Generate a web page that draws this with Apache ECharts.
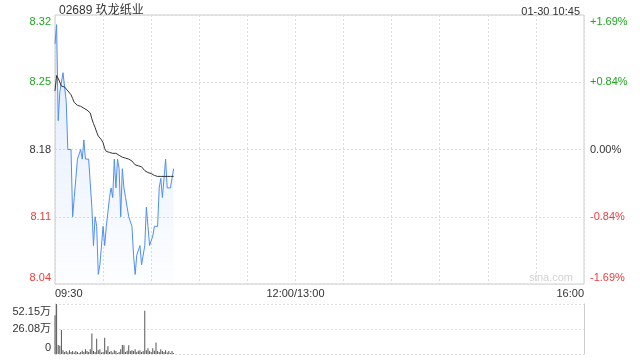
<!DOCTYPE html>
<html><head><meta charset="utf-8">
<script src="https://cdn.jsdelivr.net/npm/echarts@6/dist/echarts.min.js"></script>
<style>html,body{margin:0;padding:0;background:#fff}#c{width:640px;height:360px}</style>
</head><body><div id="c"></div>
<script>
const titleText = '02689 玖龙纸业';
const stampText = '01-30 10:45';
const watermark = 'sina.com';
const prevClose = 8.18;
// minutes since 09:30 (trading minutes), one point per minute
const price = [8.29,8.31,8.21,8.24,8.24,8.26,8.26,8.23,8.18,8.18,
  8.18,8.11,8.13,8.15,8.17,8.17,8.18,8.17,8.19,8.17,
  8.17,8.17,8.17,8.12,8.08,8.11,8.10,8.05,8.06,8.06,
  8.10,8.08,8.10,8.10,8.13,8.14,8.13,8.17,8.14,8.17,
  8.16,8.11,8.16,8.14,8.13,8.12,8.11,8.11,8.10,8.07,
  8.05,8.07,8.07,8.08,8.06,8.06,8.08,8.12,8.10,8.08,
  8.08,8.09,8.10,8.10,8.10,8.14,8.15,8.13,8.15,8.17,
  8.14,8.14,8.14,8.15,8.16];
const avgPrice = [8.241,8.257,8.254,8.250,8.246,8.246,8.245,8.243,8.241,8.239,
  8.237,8.233,8.229,8.227,8.226,8.226,8.225,8.224,8.223,8.222,
  8.221,8.220,8.218,8.212,8.207,8.203,8.198,8.194,8.192,8.190,
  8.187,8.181,8.178,8.177,8.177,8.177,8.176,8.176,8.176,8.175,
  8.174,8.173,8.172,8.172,8.171,8.171,8.170,8.169,8.168,8.166,
  8.164,8.164,8.163,8.163,8.162,8.160,8.158,8.156,8.156,8.155,
  8.155,8.154,8.153,8.153,8.152,8.152,8.152,8.152,8.152,8.152,
  8.152,8.152,8.152,8.152,8.152];
// volume in 万
const volume = [40.5,52.15,9.5,8.5,25,4,2,3,1.5,4,
  2,3,1.5,3,2,1,2,3.5,2,5,
  3,2,5,21.5,3,2,16,4,5,1.5,
  2,17,4,8,2,3,1.5,4,3,1,
  2,5,9.5,9,2,3.5,9,3,4,3,
  5,2,3.5,4,2,3,45,4,6,3,
  2,6,3.5,12,3,2,5,3,2,4,
  1.5,3,1,3,1];
const priceTicks = ['8.04','8.11','8.18','8.25','8.32'];
const pctTicks = ['-1.69%','-0.84%','0.00%','+0.84%','+1.69%'];
const volTicks = ['0','26.08万','52.15万'];
const xTickMinutes = [0,150,330];
const xTickLabels = ['09:30','12:00/13:00','16:00'];

const FONT = 'Arial, "Liberation Sans", "Noto Sans CJK SC", sans-serif';
const GREEN = '#1fa51f', RED = '#f03a3a', DARK = '#333';
const pMin = 8.04, pMax = 8.32, pInt = 0.07;

function mkRich() {
  const r = {};
  const cols = {g: GREEN, r: RED, n: DARK};
  for (const k in cols) {
    r[k] = {color: cols[k], fontSize: 11, fontFamily: FONT};
    r[k + 'T'] = {color: cols[k], fontSize: 11, fontFamily: FONT, lineHeight: 24, verticalAlign: 'bottom'};
    r[k + 'B'] = {color: cols[k], fontSize: 11, fontFamily: FONT, lineHeight: 24, verticalAlign: 'top'};
  }
  r.vT = {color: DARK, fontSize: 11, fontFamily: FONT, lineHeight: 27, verticalAlign: 'bottom'};
  r.vB = {color: DARK, fontSize: 11, fontFamily: FONT, lineHeight: 23, verticalAlign: 'top'};
  r.v = {color: DARK, fontSize: 11, fontFamily: FONT};
  return r;
}
const rich = mkRich();
function priceIdx(v) { return Math.round((v - pMin) / pInt); }
function tag(i, n) { const c = i > 2 ? 'g' : (i < 2 ? 'r' : 'n'); return c + (i === n - 1 ? 'T' : (i === 0 ? 'B' : '')); }

const dotted = {color: '#dddddd', type: [2, 2], width: 1};
const chart = echarts.init(document.getElementById('c'), null, {renderer: 'canvas'});
chart.setOption({
  animation: false,
  textStyle: {fontFamily: FONT},
  title: [
    {text: titleText, left: 54, top: 0, textStyle: {fontSize: 12, fontWeight: 'normal', color: DARK, fontFamily: FONT}},
    {text: stampText, right: 55, top: 1, textStyle: {fontSize: 11, fontWeight: 'normal', color: DARK, fontFamily: FONT}}
  ],
  graphic: [{type: 'text', right: 67, top: 272, style: {text: watermark, fill: '#d2d2d2', font: '11px ' + FONT}}],
  grid: [
    {left: 55, right: 56, top: 15, height: 269, show: true, borderColor: '#cccccc', borderWidth: 1},
    {left: 55, right: 56, top: 304, height: 50}
  ],
  xAxis: [
    {type: 'value', gridIndex: 0, min: 0, max: 330, interval: 30,
     axisLine: {show: false}, axisTick: {show: false},
     splitLine: {show: true, lineStyle: dotted},
     axisLabel: {show: true, margin: 4, fontSize: 11, color: DARK, fontFamily: FONT,
       showMinLabel: true, showMaxLabel: true, alignMinLabel: 'left', alignMaxLabel: 'right',
       formatter: v => { const k = xTickMinutes.indexOf(Math.round(v)); return k >= 0 ? xTickLabels[k] : ''; }}},
    {type: 'value', gridIndex: 1, min: 0, max: 330, interval: 30,
     axisLine: {show: false}, axisTick: {show: false}, splitLine: {show: false}, axisLabel: {show: false}}
  ],
  yAxis: [
    {type: 'value', gridIndex: 0, min: pMin, max: pMax, interval: pInt, position: 'left',
     axisLine: {show: false}, axisTick: {show: false},
     splitLine: {show: true, lineStyle: dotted},
     axisLabel: {margin: 4, rich: rich, formatter: v => { const i = priceIdx(v); return '{' + tag(i, 5) + '|' + priceTicks[i] + '}'; }}},
    {type: 'value', gridIndex: 0, min: pMin, max: pMax, interval: pInt, position: 'right',
     axisLine: {show: false}, axisTick: {show: false}, splitLine: {show: false},
     axisLabel: {margin: 6, rich: rich, formatter: v => { const i = priceIdx(v); return '{' + tag(i, 5) + '|' + pctTicks[i] + '}'; }}},
    {type: 'value', gridIndex: 1, min: 0, max: 52.15, interval: 26.075, position: 'left',
     axisLine: {show: true, lineStyle: {color: '#cccccc'}}, axisTick: {show: false},
     splitLine: {show: true, lineStyle: dotted},
     axisLabel: {margin: 4, rich: rich, formatter: v => { const i = Math.round(v / 26.075); return '{' + (i === 2 ? 'vT' : (i === 0 ? 'vB' : 'v')) + '|' + volTicks[i] + '}'; }}},
    {type: 'value', gridIndex: 1, min: 0, max: 52.15, interval: 26.075, position: 'right',
     axisLine: {show: true, lineStyle: {color: '#cccccc'}}, axisTick: {show: false},
     splitLine: {show: false}, axisLabel: {show: false}}
  ],
  series: [
    {type: 'line', xAxisIndex: 0, yAxisIndex: 0, showSymbol: false, symbol: 'none',
     data: price.map((v, i) => [i, v]),
     lineStyle: {color: '#4f8ef0', width: 1},
     areaStyle: {origin: 'start', color: new echarts.graphic.LinearGradient(0, 0, 0, 1, [
       {offset: 0, color: 'rgba(79,142,240,0.25)'}, {offset: 1, color: 'rgba(79,142,240,0.02)'}])}},
    {type: 'line', xAxisIndex: 0, yAxisIndex: 0, showSymbol: false, symbol: 'none',
     data: avgPrice.map((v, i) => [i, v]),
     lineStyle: {color: '#333333', width: 1}},
    {type: 'bar', xAxisIndex: 1, yAxisIndex: 2, barWidth: 1,
     data: volume.map((v, i) => [i, v]),
     itemStyle: {color: '#555555'}}
  ]
});
</script></body></html>
